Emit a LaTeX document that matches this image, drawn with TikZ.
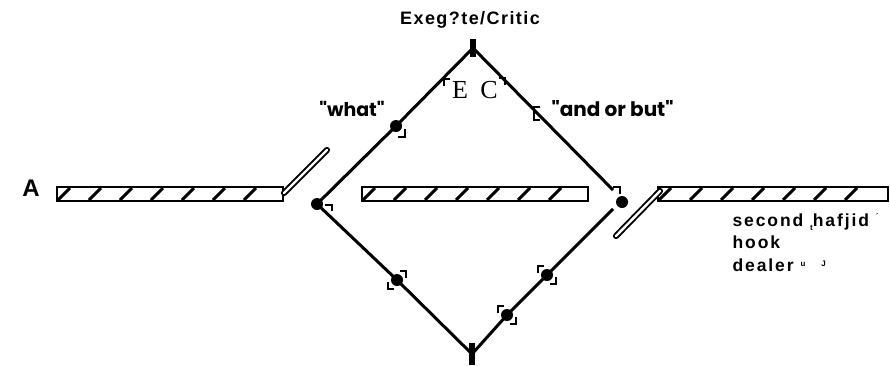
\documentclass[tikz,border=0pt]{standalone}
\usepackage{fontspec}
\setmainfont{Liberation Serif}
\setsansfont{Liberation Sans}
\newfontfamily\widefont[LetterSpace=8]{Liberation Sans}
\newfontfamily\hookfont[LetterSpace=11]{Liberation Sans}
\newfontfamily\roundfont{Poppins}
\begin{document}
\begin{tikzpicture}[x=1pt, y=-1pt,
  dot/.style={circle, fill=black, inner sep=0pt, minimum size=12pt},
  tick/.style={rectangle, fill=black, inner sep=0pt, minimum width=6pt, minimum height=18pt},
  edge/.style={line width=3pt},
  bar/.style={line width=2.4pt},
  slash/.style={line width=3pt},
  rail/.style={double, double distance=2.4pt, line width=1.9pt, line cap=round},
  mk/.style={line width=1.8pt},
  corners/.pic={\draw[mk] (-9,-2) |- (-3,-9) (9,2) |- (3,9);}]

\useasboundingbox (0,0) rectangle (890,365);

% uzly kosoctverce
\node[tick] (T) at (473,48) {};
\node[dot] (W) at (396,126) {};
\node[dot] (L) at (317,204) {};
\node[dot] (R) at (622,202) {};
\coordinate (Rt) at (613,190);
\coordinate (Rb) at (613,209);
\node[dot] (P) at (547,275) {};
\node[dot] (Q) at (507,315) {};
\node[dot] (D) at (397,280) {};
\node[tick, minimum height=22pt] (B) at (472,354) {};

% hrany
\draw[edge] (L.center) -- (W.center) -- (T.center);
\draw[edge] (T.center) -- (Rt);
\draw[edge] (Rb) -- (P.center) -- (Q.center) -- (B.center);
\draw[edge] (L.center) -- (D.center) -- (B.center);

% znacky
\pic at (P) {corners};
\pic at (Q) {corners};
\pic[xscale=-1] at (D) {corners};
\draw[mk] (405,129) |- (398,137);
\draw[mk] (325,205) -| (332,211);
\draw[mk] (613,187) -| (620,194);
\draw[mk] (444,86) |- (450,79);
\draw[mk] (499,78) -| (505,85);
\draw[mk] (540,107) -| (534,120) -- (540,120);

% sraffovane pasy
\foreach \a/\b in {57/283, 362/588, 658/888}{
  \draw[bar] (\a,187) rectangle (\b,201);
  \foreach \x in {0,31,...,210}
    \draw[slash] (\a+\x+1,200) -- (\a+\x+13,188);
}
\draw[rail] (284,193) -- (327,150);
\draw[rail] (660,191) -- (616,236);

% popisky
\node[font=\widefont\bfseries\fontsize{18}{20}\selectfont] (title) at (470,20) {Exeg?te/Critic};
\node[font=\sffamily\bfseries\fontsize{24}{26}\selectfont] (A) at (31,188) {A};
\node[font=\fontsize{26}{28}\selectfont] (E) at (460,90) {E};
\node[font=\fontsize{26}{28}\selectfont] (C) at (489,90) {C};
\node[font=\roundfont\bfseries\fontsize{19}{21}\selectfont] (what) at (352,109) {"what"};
\node[font=\roundfont\bfseries\fontsize{20}{22}\selectfont, anchor=west] (andor) at (548,109) {"and or but"};
\node[font=\hookfont\bfseries\fontsize{17.5}{22.5}\selectfont, align=left, anchor=north west] (hook) at (729,210)
  {second \raisebox{-4pt}{\footnotesize t}hafjid \raisebox{7pt}{\footnotesize\textasciiacute}\\hook\\dealer \raisebox{5pt}{\footnotesize u}\hspace{16pt}\raisebox{5pt}{\footnotesize J}};

\end{tikzpicture}
\end{document}
